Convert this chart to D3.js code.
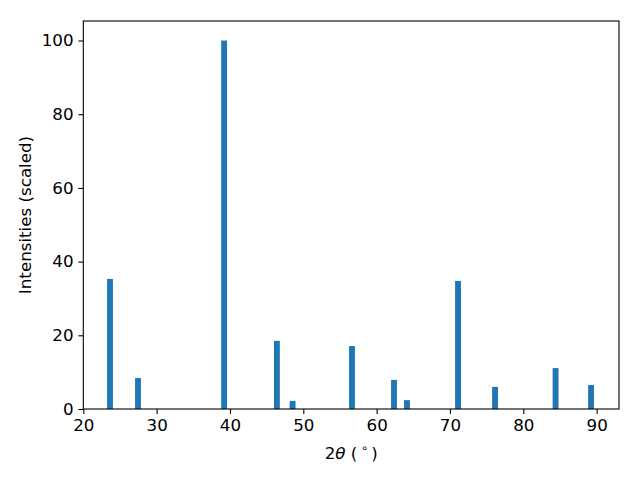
<!DOCTYPE html>
<html>
<head>
<meta charset="utf-8">
<script src="https://cdn.jsdelivr.net/npm/d3@7"></script>
<style>
body { margin: 0; background: #fff; }
text { font-family: "DejaVu Sans", sans-serif; }
</style>
</head>
<body>
<svg width="640" height="480"></svg>
<script>
// peak positions (2theta) and scaled intensities
var angles = [23.64, 27.46, 39.2, 46.4, 48.54, 56.64, 62.37, 64.14, 71.1, 76.15, 84.4, 89.24];
var intens = [35.3, 8.4, 100, 18.5, 2.2, 17.1, 7.9, 2.4, 34.75, 6.0, 11.1, 6.5];
var xTicks = [20, 30, 40, 50, 60, 70, 80, 90];
var yTicks = [0, 20, 40, 60, 80, 100];

var peaks = angles.map(function(a, i) { return {a: a, v: intens[i]}; });

var plotL = 83.3, plotR = 619, plotT = 21, plotB = 409;
var barW = 0.8;
var fs = '16.7px';

var x = d3.scaleLinear().domain([20, 93.05]).range([plotL, plotR]);
var y = d3.scaleLinear().domain([0, 105.3]).range([plotB, plotT]);

var svg = d3.select('svg');

svg.selectAll('rect.bar')
	.data(peaks)
	.enter()
	.append('rect')
	.attr('class', 'bar')
	.attr('x', function(d) { return x(d.a - barW / 2); })
	.attr('width', function(d) { return x(d.a + barW / 2) - x(d.a - barW / 2); })
	.attr('y', function(d) { return y(d.v); })
	.attr('height', function(d) { return y(0) - y(d.v); })
	.style('fill', '#1f77b4');

var xAxis = d3.axisBottom(x).tickValues(xTicks).tickSize(4.9).tickPadding(4.9).tickFormat(d3.format('d'));
var yAxis = d3.axisLeft(y).tickValues(yTicks).tickSize(4.9).tickPadding(4.9).tickFormat(d3.format('d'));

var gx = svg.append('g').attr('transform', 'translate(0,' + plotB + ')').call(xAxis);
var gy = svg.append('g').attr('transform', 'translate(' + plotL + ',0)').call(yAxis);

[gx, gy].forEach(function(g) {
	g.select('.domain').remove();
	g.selectAll('line').style('stroke', '#000').style('stroke-width', 1.1);
	g.selectAll('text').style('font-size', fs).style('fill', '#000')
		.style('font-family', '"DejaVu Sans", sans-serif');
});

// frame
svg.append('rect')
	.attr('x', plotL).attr('y', plotT)
	.attr('width', plotR - plotL).attr('height', plotB - plotT)
	.style('fill', 'none').style('stroke', '#000').style('stroke-width', 1.1);

// axis labels
var xl = svg.append('text')
	.attr('x', (plotL + plotR) / 2)
	.attr('y', 459)
	.attr('text-anchor', 'middle')
	.style('font-size', fs);
xl.append('tspan').text('2');
xl.append('tspan').style('font-style', 'italic').text('θ');
xl.append('tspan').text(' (\u2009');
xl.append('tspan').attr('dy', -7).style('font-size', '11.5px').text('∘');
xl.append('tspan').attr('dy', 7).text('\u2009)');

svg.append('text')
	.attr('transform', 'translate(31,' + ((plotT + plotB) / 2) + ') rotate(-90)')
	.attr('text-anchor', 'middle')
	.style('font-size', fs)
	.text('Intensities (scaled)');
</script>
</body>
</html>
